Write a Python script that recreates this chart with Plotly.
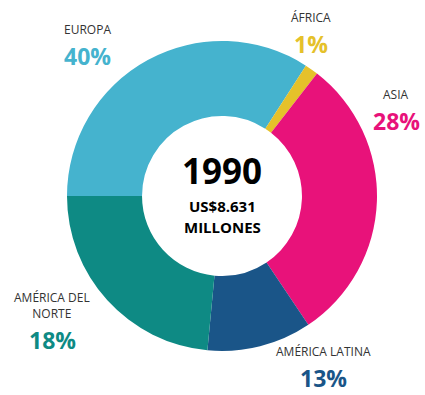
import plotly.graph_objects as go

# Regions (clockwise from 9 o'clock)
regions = ["EUROPA", "ÁFRICA", "ASIA", "AMÉRICA LATINA", "AMÉRICA DEL<br>NORTE"]
# Printed percentage labels
pct_labels = ["40%", "1%", "28%", "13%", "18%"]
# Arc share of each slice as drawn in the picture (%)
arc_share = [34.1, 1.4, 30.1, 10.9, 23.5]
colors = ["#45B3CE", "#E5C12A", "#E8127A", "#1A5588", "#0E8A84"]

year = "1990"
total_lines = ["US$8.631", "MILLONES"]

W, H = 425, 395
FONT = "Open Sans"

fig = go.Figure(go.Pie(
    labels=regions, values=arc_share, sort=False, direction="clockwise",
    rotation=270, hole=0.516,
    marker=dict(colors=colors, line=dict(width=0)),
    textinfo="none", hoverinfo="label", showlegend=False,
    domain=dict(x=[67 / W, 377 / W], y=[1 - 351 / H, 1 - 41 / H]),
))

# x centre and boundary y (px) between region name (above) and percentage (below)
label_pos = [(87, 39), (311, 27), (396, 104), (323, 361), (52, 323)]

for name, pct, col, (lx, ly) in zip(regions, pct_labels, colors, label_pos):
    fig.add_annotation(x=lx / W, y=1 - ly / H, xref="paper", yref="paper",
                       text=name, showarrow=False, xanchor="center", yanchor="bottom",
                       align="center", borderpad=0,
                       font=dict(family=FONT, size=12, color="#333333"))
    fig.add_annotation(x=lx / W, y=1 - ly / H, xref="paper", yref="paper",
                       text="<b>" + pct + "</b>", showarrow=False, xanchor="center", yanchor="top",
                       borderpad=0,
                       font=dict(family=FONT, size=23, color=col))

# centre text: year above a boundary, total lines stacked below it
b1 = 195
fig.add_annotation(x=222 / W, y=1 - b1 / H, xref="paper", yref="paper",
                   text="<b>" + year + "</b>", showarrow=False, xanchor="center", yanchor="bottom",
                   borderpad=0,
                   font=dict(family=FONT, size=35, color="#000000"))
for i, t in enumerate(total_lines):
    fig.add_annotation(x=222 / W, y=1 - (b1 + i * 20.8) / H, xref="paper", yref="paper",
                       text="<b>" + t + "</b>", showarrow=False, xanchor="center", yanchor="top",
                       borderpad=0,
                       font=dict(family=FONT, size=15, color="#000000"))

fig.update_layout(width=W, height=H, margin=dict(l=0, r=0, t=0, b=0),
                  paper_bgcolor="white", plot_bgcolor="white")
fig.write_html("out.html", config={"displayModeBar": False},
               post_script="document.body.style.margin='0';")
